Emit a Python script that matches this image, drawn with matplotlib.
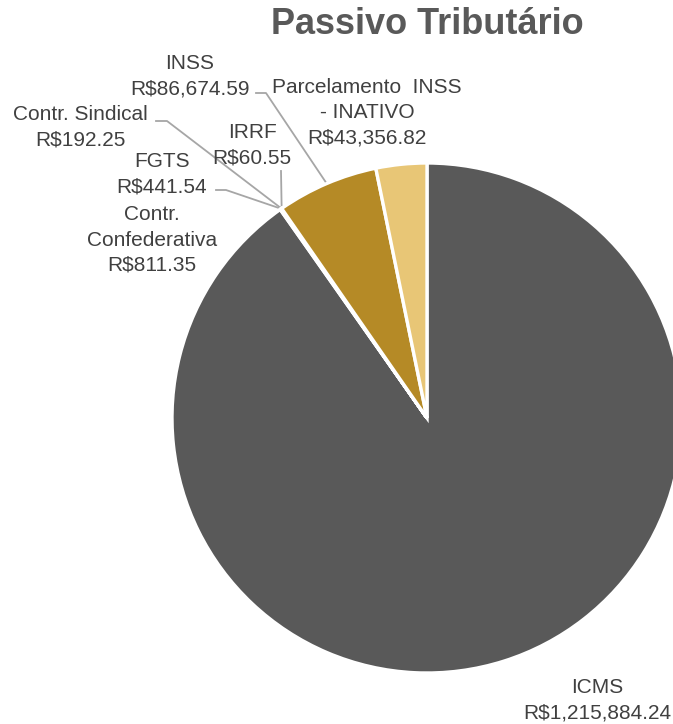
import numpy as np
import matplotlib.pyplot as plt

plt.rcParams['font.family'] = ['Liberation Sans', 'DejaVu Sans']

# data
categorias = ["ICMS", "Contr.\nConfederativa", "FGTS", "Contr. Sindical", "IRRF",
              "INSS", "Parcelamento  INSS\n- INATIVO"]
valores = [1215884.24, 811.35, 441.54, 192.25, 60.55, 86674.59, 43356.82]
cores = ["#595959", "#7F7F7F", "#A5A5A5", "#C9A04A", "#D9D9D9", "#B58A26", "#E8C676"]

W, H = 673, 724


def px(x, y):
    # image pixel (y from top) -> axes data
    return (x, H - y)


fig = plt.figure(figsize=(W / 100, H / 100), dpi=100)
ax = fig.add_axes([0, 0, 1, 1])

cx, cy = px(427, 418)
R = 255
wedges, _ = ax.pie(valores, colors=cores, startangle=90, counterclock=False,
                   center=(cx, cy), radius=R, frame=True,
                   wedgeprops=dict(edgecolor="white", linewidth=2.4))
ax.set_xlim(0, W)
ax.set_ylim(0, H)
ax.axis("off")


def fmt(v):
    return "R$" + f"{v:,.2f}"


# label layout: text centre (pixels), optional leader elbow (pixels)
layout = {
    "ICMS": ((597, 700), None, None),
    "Contr.\nConfederativa": ((152, 240), None, None),
    "FGTS": ((162, 174), (216, 190), (226, 190)),
    "Contr. Sindical": ((80, 127), (156, 121), (167, 121)),
    "IRRF": ((252, 145), (281, 171), (281, 171)),
    "INSS": ((190, 76), (256, 93), (266, 93)),
    "Parcelamento  INSS\n- INATIVO": ((367, 113), None, None),
}

txtc = "#404040"
linec = "#A6A6A6"
for w, cat, v in zip(wedges, categorias, valores):
    (tx, ty), p0, p1 = layout[cat]
    ax.text(*px(tx, ty), cat + "\n" + fmt(v), ha="center", va="center",
            fontsize=15, color=txtc, linespacing=1.42, multialignment="center")
    if p0 is not None:
        ang = np.deg2rad((w.theta1 + w.theta2) / 2)
        ex, ey = cx + R * np.cos(ang), cy + R * np.sin(ang)
        xs = [px(*p0)[0], px(*p1)[0], ex]
        ys = [px(*p0)[1], px(*p1)[1], ey]
        ax.plot(xs, ys, color=linec, lw=1.3, zorder=0.5)

ax.text(*px(427, 24), "Passivo Tributário", ha="center", va="center",
        fontsize=26, fontweight="bold", color="#595959")

fig.savefig("out.png", dpi=100)
